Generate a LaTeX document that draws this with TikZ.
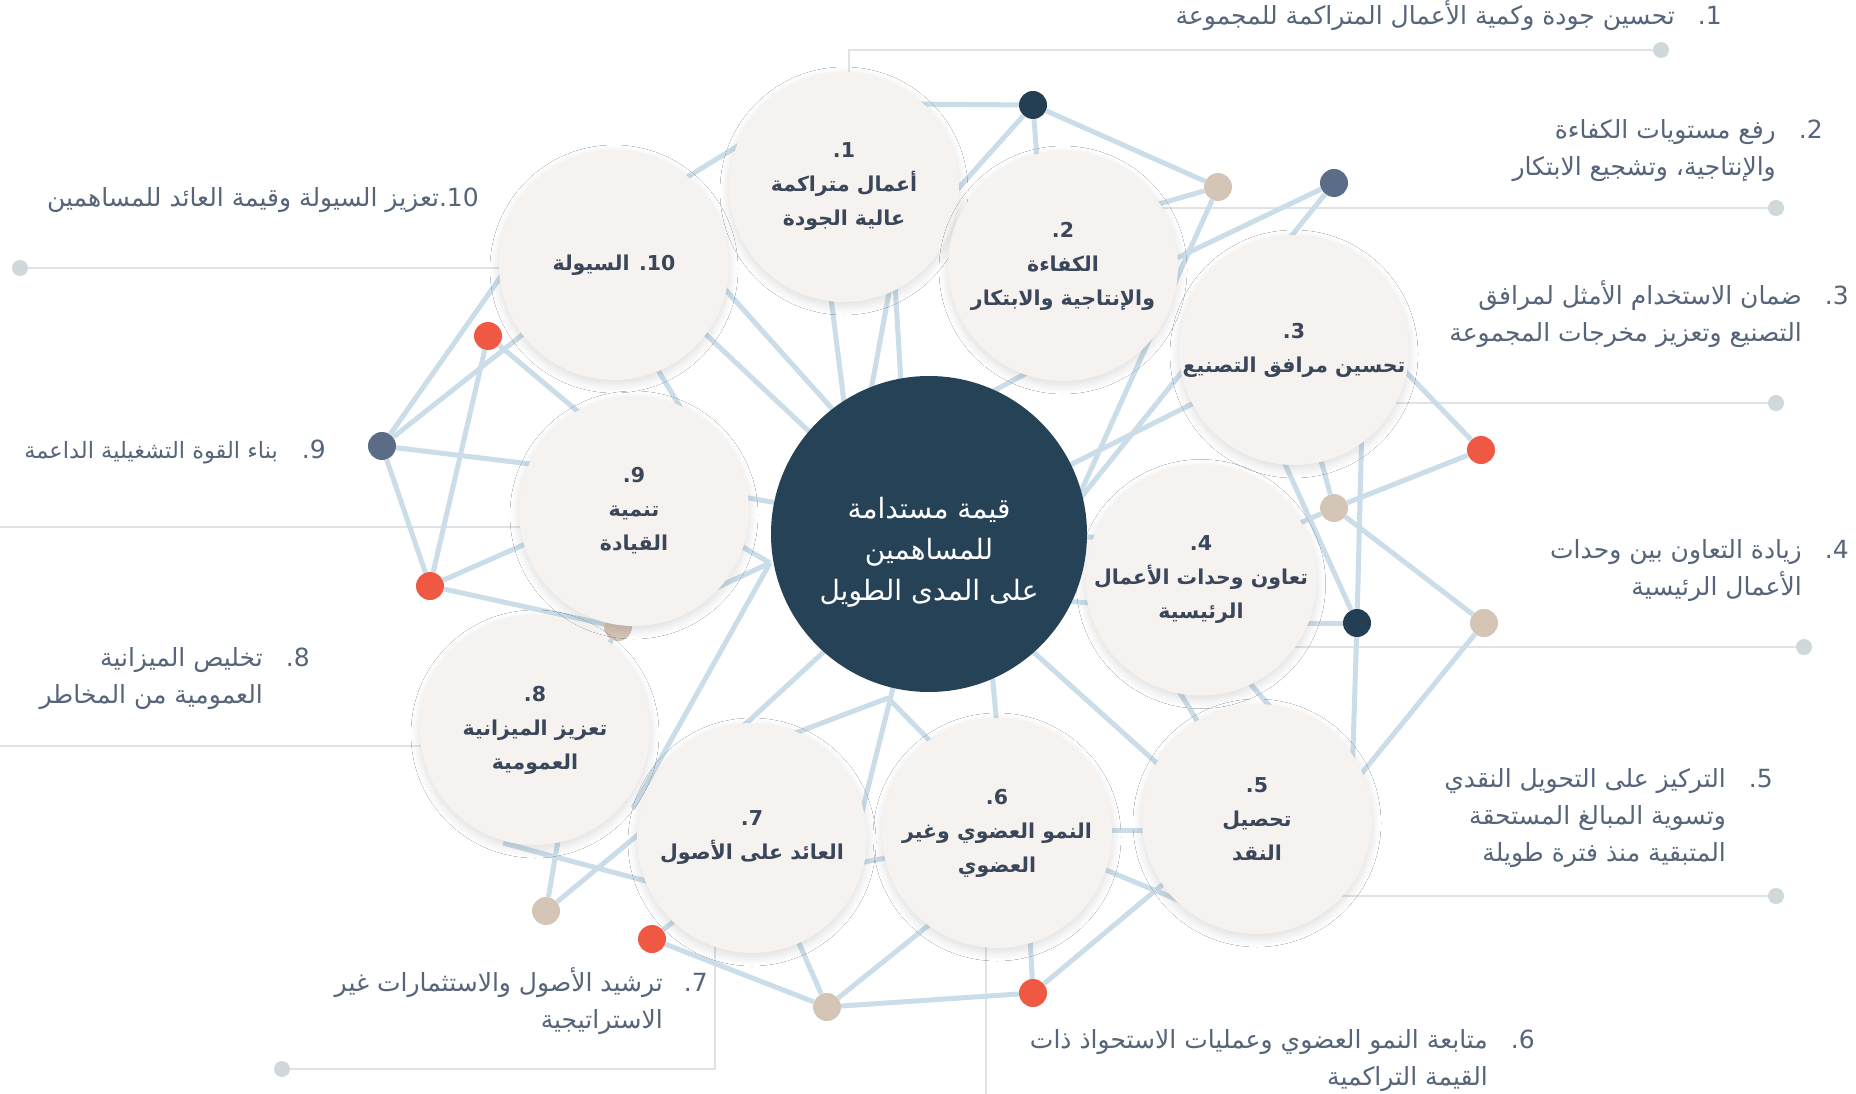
\documentclass[tikz,border=0pt]{standalone}
\usepackage{fontspec}
\setmainfont{DejaVu Sans}
\newfontfamily\arabicfont[Script=Arabic]{DejaVu Sans}
\TeXXeTstate=1
\usetikzlibrary{shadows.blur}
\definecolor{cfill}{HTML}{F5F2EF}
\definecolor{ctext}{HTML}{3A4659}
\definecolor{stext}{HTML}{56657A}
\definecolor{netc}{HTML}{CADDE8}
\definecolor{leadc}{HTML}{DDE3E7}
\definecolor{leaddot}{HTML}{D1D8DC}
\definecolor{navy}{HTML}{243F53}
\definecolor{centerc}{HTML}{264256}
\definecolor{slate}{HTML}{5B6C86}
\definecolor{tan}{HTML}{D5C5B7}
\definecolor{redc}{HTML}{EF5842}
\tikzset{
  net/.style={draw=netc, line width=5pt, line join=round},
  lead/.style={draw=leadc, line width=2pt},
  ldot/.style={circle, fill=leaddot, minimum size=16pt, inner sep=0pt},
  netdot/.style={circle, minimum size=28pt, inner sep=0pt},
  circ/.style={circle, fill=cfill, minimum size=230pt, inner sep=0pt, text=ctext, align=center,
    font=\arabicfont\bfseries\fontsize{20.5}{34}\selectfont,
    blur shadow={shadow xshift=0pt, shadow yshift=-4pt, shadow blur radius=9pt, shadow blur steps=12, shadow opacity=14}},
  sidel/.style={inner sep=0pt, text=stext, align=right, font=\arabicfont\fontsize{25}{37}\selectfont},
}
\begin{document}
\begin{tikzpicture}[x=1pt,y=-1pt]
\useasboundingbox (0,0) rectangle (1856,1094);
\fill[white] (0,0) rectangle (1856,1094);

% network dots
\node[netdot, fill=navy]  (N1) at (1033,105) {};
\node[netdot, fill=tan]   (T1) at (1218,187) {};
\node[netdot, fill=slate] (S1) at (1334,183) {};
\node[netdot, fill=redc]  (R2) at (1481,450) {};
\node[netdot, fill=tan]   (T2) at (1334,508) {};
\node[netdot, fill=navy]  (N2) at (1357,623) {};
\node[netdot, fill=tan]   (T3) at (1484,623) {};
\node[netdot, fill=redc]  (R3) at (1033,993) {};
\node[netdot, fill=tan]   (T4) at (827,1007) {};
\node[netdot, fill=redc]  (R4) at (652,939) {};
\node[netdot, fill=tan]   (T5) at (546,911) {};
\node[netdot, fill=redc]  (R5) at (430,586) {};
\node[netdot, fill=slate] (S2) at (382,446) {};
\node[netdot, fill=redc]  (R1) at (488,336) {};
\node[netdot, fill=tan]   (T6) at (618,627) {};

% hidden ends and junctions
\coordinate (h1) at (900,104);   \coordinate (h2) at (1040,200);
\coordinate (h3) at (930,220);   \coordinate (h4) at (1120,215);
\coordinate (h5) at (1110,290);  \coordinate (h6) at (1000,598);
\coordinate (h7) at (1056,547);  \coordinate (h8) at (940,420);
\coordinate (h9) at (1060,355);  \coordinate (h10) at (1000,500);
\coordinate (h11) at (1230,385); \coordinate (h12) at (1380,345);
\coordinate (h13) at (1310,420); \coordinate (h14) at (1250,545);
\coordinate (h15) at (1362,420); \coordinate (h16) at (1352,780);
\coordinate (h17) at (1265,420); \coordinate (h18) at (1250,623);
\coordinate (h19) at (1340,800); \coordinate (h20) at (1160,660);
\coordinate (h21) at (1215,750); \coordinate (h22) at (1230,660);
\coordinate (h23) at (1290,730); \coordinate (h24) at (990,613);
\coordinate (h25) at (1200,802); \coordinate (h26) at (1080,830);
\coordinate (h27) at (1170,830); \coordinate (h28) at (1070,855);
\coordinate (h29) at (1190,905); \coordinate (h30) at (1180,870);
\coordinate (h31) at (1028,900); \coordinate (h32) at (960,900);
\coordinate (h33) at (780,900);  \coordinate (h34) at (503,843);
\coordinate (h35) at (680,890);  \coordinate (h36) at (565,800);
\coordinate (h37) at (680,800);  \coordinate (h38) at (700,900);
\coordinate (h39) at (880,600);  \coordinate (h40) at (700,766);
\coordinate (h41) at (740,754);  \coordinate (P) at (888,698);
\coordinate (h42) at (980,792);  \coordinate (h43) at (905,640);
\coordinate (h44) at (850,860);  \coordinate (h45) at (990,650);
\coordinate (h46) at (1000,760); \coordinate (h47) at (820,870);
\coordinate (h48) at (930,850);  \coordinate (h49) at (530,235);
\coordinate (h50) at (560,305);  \coordinate (h51) at (580,470);
\coordinate (h52) at (600,430);  \coordinate (h53) at (580,520);
\coordinate (h54) at (580,700);  \coordinate (h55) at (640,340);
\coordinate (h56) at (700,440);  \coordinate (h57) at (680,310);
\coordinate (h58) at (850,470);  \coordinate (h59) at (690,250);
\coordinate (h60) at (860,440);  \coordinate (h61) at (825,250);
\coordinate (h62) at (850,450);  \coordinate (h63) at (895,260);
\coordinate (h64) at (860,450);  \coordinate (h65) at (893,250);
\coordinate (h66) at (905,450);  \coordinate (h67) at (650,200);
\coordinate (h68) at (780,120);  \coordinate (h69) at (700,490);
\coordinate (h70) at (820,510);  \coordinate (h71) at (690,600);
\coordinate (h72) at (690,516);  \coordinate (J) at (770,563);
\coordinate (h73) at (633,808);  \coordinate (h74) at (1050,538);
\coordinate (h75) at (1150,536); \coordinate (h76) at (1050,600);
\coordinate (h77) at (1130,606);

% leader lines with end dots
\coordinate (l1a) at (849,73);  \coordinate (l1b) at (849,50);
\node[ldot] (d1) at (1661,50) {};
\coordinate (l2a) at (1100,208); \node[ldot] (d2) at (1776,208) {};
\coordinate (l3a) at (1300,403); \node[ldot] (d3) at (1776,403) {};
\coordinate (l4a) at (1250,647); \node[ldot] (d4) at (1804,647) {};
\coordinate (l5a) at (1300,896); \node[ldot] (d5) at (1776,896) {};
\coordinate (l6a) at (986,900);  \coordinate (l6b) at (986,1094);
\coordinate (l7a) at (715,900);  \coordinate (l7b) at (715,1069);
\node[ldot] (d7) at (282,1069) {};
\coordinate (l8a) at (0,746);    \coordinate (l8b) at (440,746);
\coordinate (l9a) at (0,527);    \coordinate (l9b) at (560,527);
\node[ldot] (d10) at (20,268) {}; \coordinate (l10b) at (540,268);

\draw[lead] (l1a) -- (l1b) -- (d1);
\draw[lead] (l2a) -- (d2);
\draw[lead] (l3a) -- (d3);
\draw[lead] (l4a) -- (d4);
\draw[lead] (l5a) -- (d5);
\draw[lead] (l6a) -- (l6b);
\draw[lead] (l7a) -- (l7b) -- (d7);
\draw[lead] (l8a) -- (l8b);
\draw[lead] (l9a) -- (l9b);
\draw[lead] (d10) -- (l10b);

% network connectors
\foreach \a/\b in {h1/N1, N1/T1, N1/h2, N1/h3, T1/h4, S1/h5, S1/h6, T1/h7,
  h8/h9, h10/h11, h12/R2, R2/T2, T2/h13, T2/h14, T2/T3, h15/N2, N2/h16,
  h17/N2, h18/N2, T3/h19, h20/h21, h22/h23, h24/h25, h26/h27, h28/h29,
  R3/h30, R3/h31, T4/R3, T4/h32, h33/T4, R4/T4, h34/h35, T5/h36, T5/h37,
  R4/h38, h39/h40, h43/h44, h45/h46, h47/h48, S2/h49,
  S2/h50, S2/h51, S2/R5, R1/R5, R1/h52, R5/h53, R5/T6, T6/h54, h55/h56,
  h57/h58, h59/h60, h61/h62, h63/h64, h65/h66, h67/h68, h69/h70, h71/J,
  h72/J, J/h73, h74/h75, h76/h77}
  \draw[net] (\a) -- (\b);
\draw[net] (h41) -- (P) -- (h42);

% circles
\node[circ] (c1) at (844,187) {1.\\\beginR أعمال متراكمة\endR\\\beginR عالية الجودة\endR};
\node[circ] (c2) at (1063,266) {2.\\\beginR الكفاءة\endR\\\beginR والإنتاجية والابتكار\endR};
\node[circ] (c3) at (1294,350) {3.\\\beginR تحسين مرافق التصنيع\endR};
\node[circ] (c4) at (1201,580) {4.\\\beginR تعاون وحدات الأعمال\endR\\\beginR الرئيسية\endR};
\node[circ] (c5) at (1257,819) {5.\\\beginR تحصيل\endR\\\beginR النقد\endR};
\node[circ] (c6) at (997,833) {6.\\\beginR النمو العضوي وغير\endR\\\beginR العضوي\endR};
\node[circ] (c7) at (752,838) {7.\\\beginR العائد على الأصول\endR};
\node[circ] (c8) at (535,730) {8.\\\beginR تعزيز الميزانية\endR\\\beginR العمومية\endR};
\node[circ] (c9) at (634,511) {9.\\\beginR تنمية\endR\\\beginR القيادة\endR};
\node[circ] (c10) at (614,265) {\beginR 10. السيولة\endR};
\node[circle, fill=centerc, minimum size=316pt, inner sep=0pt] (cc) at (929,534) {};
\node[text=white, align=center, inner sep=0pt, font=\arabicfont\fontsize{28}{41}\selectfont] (cct) at (929,552)
  {\beginR قيمة مستدامة\endR\\\beginR للمساهمين\endR\\\beginR على المدى الطويل\endR};

% side labels (base anchor = baseline of last line)
\node[sidel, anchor=base east] (n1) at (1722,25) {1.};
\node[sidel, anchor=base east] (t1) at (1675,25) {\beginR تحسين جودة وكمية الأعمال المتراكمة للمجموعة\endR};
\node[sidel, anchor=base east] (n2) at (1823,139) {2.};
\node[sidel, anchor=base east] (t2) at (1776,176) {\beginR رفع مستويات الكفاءة\endR\\\beginR والإنتاجية، وتشجيع الابتكار\endR};
\node[sidel, anchor=base east] (n3) at (1849,304) {3.};
\node[sidel, anchor=base east] (t3) at (1802,341) {\beginR ضمان الاستخدام الأمثل لمرافق\endR\\\beginR التصنيع وتعزيز مخرجات المجموعة\endR};
\node[sidel, anchor=base east] (n4) at (1849,558) {4.};
\node[sidel, anchor=base east] (t4) at (1802,595) {\beginR زيادة التعاون بين وحدات\endR\\\beginR الأعمال الرئيسية\endR};
\node[sidel, anchor=base east] (n5) at (1773,787) {5.};
\node[sidel, anchor=base east] (t5) at (1726,861) {\beginR التركيز على التحويل النقدي\endR\\\beginR وتسوية المبالغ المستحقة\endR\\\beginR المتبقية منذ فترة طويلة\endR};
\node[sidel, anchor=base east] (n6) at (1535,1048) {6.};
\node[sidel, anchor=base east] (t6) at (1488,1085) {\beginR متابعة النمو العضوي وعمليات الاستحواذ ذات\endR\\\beginR القيمة التراكمية\endR};
\node[sidel, anchor=base east] (n7) at (708,991) {7.};
\node[sidel, anchor=base east] (t7) at (663,1028) {\beginR ترشيد الأصول والاستثمارات غير\endR\\\beginR الاستراتيجية\endR};
\node[sidel, anchor=base east] (n8) at (310,666) {8.};
\node[sidel, anchor=base east] (t8) at (263,703) {\beginR تخليص الميزانية\endR\\\beginR العمومية من المخاطر\endR};
\node[sidel, anchor=base east] (n9) at (326,458) {9.};
\node[sidel, anchor=base east, font=\arabicfont\fontsize{22.5}{37}\selectfont] (t9) at (278,458) {\beginR بناء القوة التشغيلية الداعمة\endR};
\node[sidel, anchor=base east] (t10) at (479,207) {\beginR 10.تعزيز السيولة وقيمة العائد للمساهمين\endR};
\end{tikzpicture}
\end{document}
